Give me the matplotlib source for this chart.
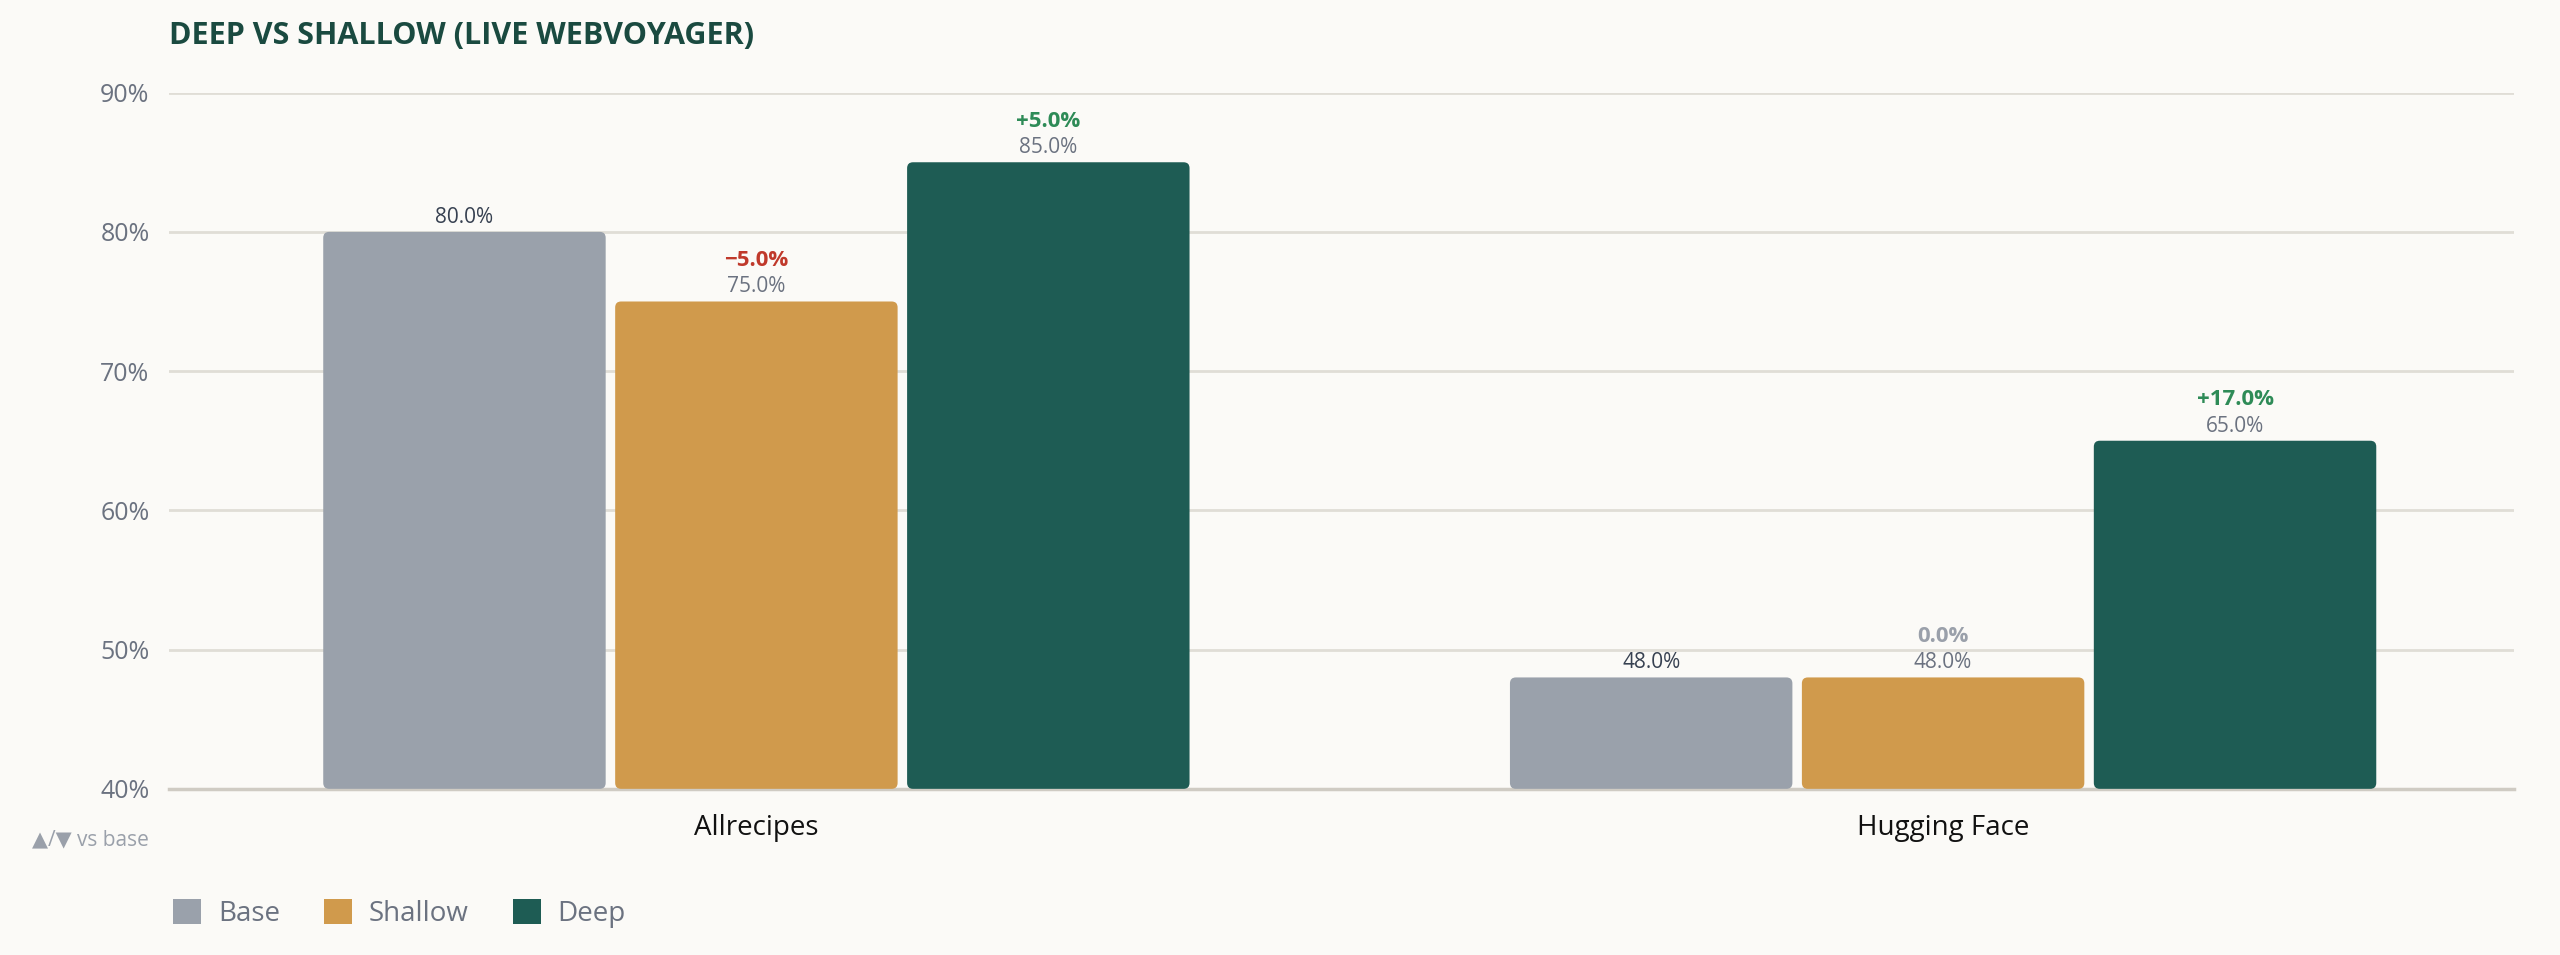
import matplotlib
matplotlib.use("Agg")
import matplotlib.pyplot as plt
from matplotlib.patches import FancyBboxPatch, Patch

categories = ["Allrecipes", "Hugging Face"]
series = ["Base", "Shallow", "Deep"]
base = [80.0, 48.0]
shallow = [75.0, 48.0]
deep = [85.0, 65.0]
yticks = [40, 50, 60, 70, 80, 90]

colors = ["#9aa1ab", "#d09a4c", "#1e5c54"]
bg = "#fbfaf7"
plt.rcParams['font.family'] = ['Open Sans', 'DejaVu Sans']

fig = plt.figure(figsize=(25.6, 9.55), dpi=100, facecolor=bg)
ax = fig.add_axes([0.066, 0.174, 0.916, 0.729], facecolor=bg)
ax.set_xlim(-0.495, 1.481)
ax.set_ylim(40, 90)

w = 0.238
off = 0.246
asp = (0.916*2560/1.976) / (0.729*955/50)
vals = [base, shallow, deep]
for si, sv in enumerate(vals):
    for ci, v in enumerate(sv):
        x = ci + (si-1)*off
        p = FancyBboxPatch((x-w/2, 40), w, v-40,
                           boxstyle="round,pad=0,rounding_size=0.005",
                           mutation_aspect=asp, fc=colors[si], ec="none", zorder=3)
        ax.add_patch(p)
        lc = "#374151" if si == 0 else "#6b7280"
        ax.text(x, v+0.3, f"{v:.1f}%", ha="center", va="bottom", fontsize=15, color=lc, zorder=4)
        if si > 0:
            d = v - base[ci]
            if d > 0:
                s, c = f"+{d:.1f}%", "#2e8b57"
            elif d < 0:
                s, c = f"\u2212{abs(d):.1f}%", "#c0392b"
            else:
                s, c = f"{d:.1f}%", "#9aa0aa"
            ax.text(x, v+2.2, s, ha="center", va="bottom", fontsize=16, fontweight="bold", color=c, zorder=4)

ax.set_yticks(yticks)
ax.set_yticklabels([f"{t}%" for t in yticks], fontsize=18, color="#6b7280")
ax.set_xticks([0, 1])
ax.set_xticklabels(categories, fontsize=20, color="#111111")
ax.tick_params(axis="both", length=0)
ax.tick_params(axis="x", pad=18)
ax.tick_params(axis="y", pad=14)
ax.grid(axis="y", color="#e0ddd6", lw=2, zorder=0)
for s in ["top", "right", "left"]:
    ax.spines[s].set_visible(False)
ax.spines["bottom"].set_color("#cfcbc3")
ax.spines["bottom"].set_linewidth(2.5)

fig.text(0.066, 0.962, "DEEP VS SHALLOW (LIVE WEBVOYAGER)", fontsize=22, fontweight="bold",
         color="#1a4a40", va="center", ha="left")
fig.text(0.058, 0.12, "\u25b2/\u25bc vs base", fontsize=15, color="#9aa0aa", ha="right", va="center",
         family=['Open Sans', 'DejaVu Sans'])

handles = [Patch(fc=c, ec="none", label=l) for c, l in zip(colors, series)]
leg = fig.legend(handles=handles, loc="center left", bbox_to_anchor=(0.058, 0.043), ncol=3,
                 frameon=False, fontsize=20, handlelength=1.0, handleheight=1.0,
                 handletextpad=0.6, columnspacing=1.6, labelcolor="#6b7280")
fig.savefig("out.png", dpi=100, facecolor=bg)
